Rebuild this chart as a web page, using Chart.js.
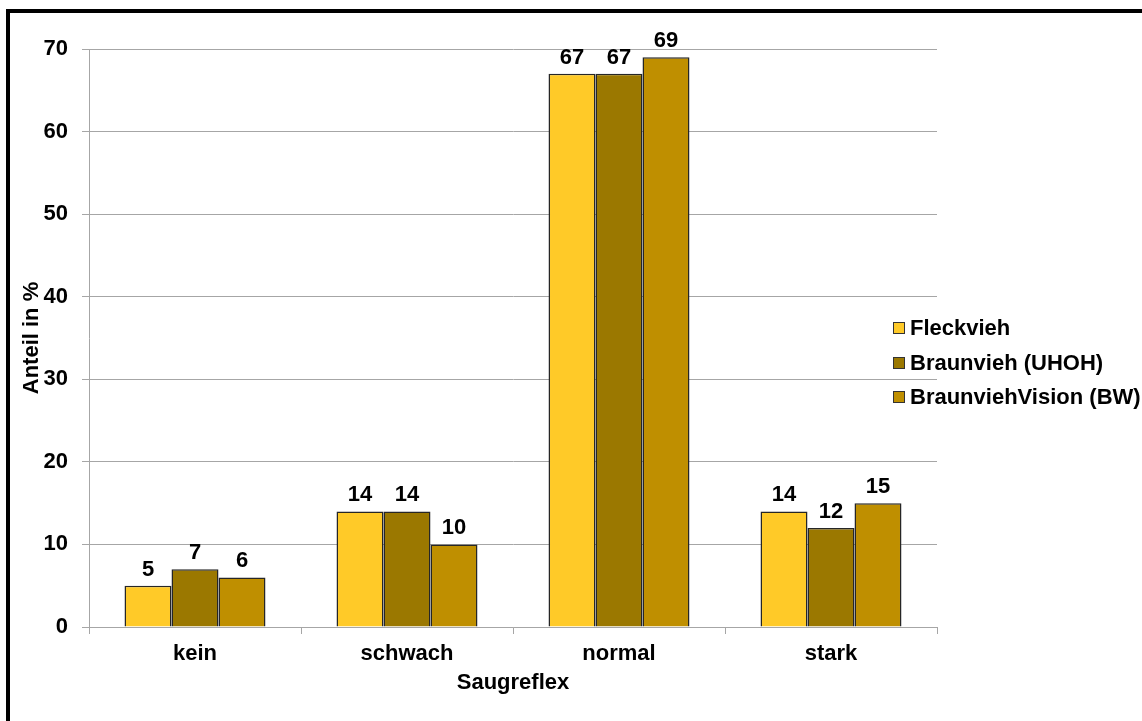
<!DOCTYPE html>
<html>
<head>
<meta charset="utf-8">
<script src="https://cdn.jsdelivr.net/npm/chart.js"></script>
<style>
html,body{margin:0;padding:0;background:#fff;overflow:hidden;}
#frame{position:absolute;left:6px;top:9px;width:1400px;height:1000px;border-top:4px solid #000;border-left:4px solid #000;}
#wrap{position:absolute;left:0;top:0;width:1142px;height:721px;}
</style>
</head>
<body>
<div id="frame"></div>
<div id="wrap"><canvas id="myChart" width="1142" height="721"></canvas></div>
<script>
// Saugreflex nach Rasse, Anteil in %
var categories = ['kein', 'schwach', 'normal', 'stark'];
var fleckvieh = [5, 14, 67, 14];
var braunvieh = [7, 14, 67, 12];
var braunviehVision = [6, 10, 69, 15];
var yTicks = [0, 10, 20, 30, 40, 50, 60, 70];

var font = 'Liberation Sans, Arial, sans-serif';
var fontSize = 22;
var gridGrey = '#a6a6a6';

// zahlen ueber den balken
var valueLabels = {
    id: 'valueLabels',
    afterDatasetsDraw(chart) {
        var ctx = chart.ctx;
        ctx.save();
        ctx.font = 'bold ' + fontSize + 'px ' + font;
        ctx.fillStyle = '#000';
        ctx.textAlign = 'center';
        ctx.textBaseline = 'alphabetic';
        chart.data.datasets.forEach((ds, i) => {
            chart.getDatasetMeta(i).data.forEach((bar, j) => {
                ctx.fillText(ds.data[j], bar.x, bar.y - 10);
            });
        });
        ctx.restore();
    }
};

// legende rechts neben dem diagramm
var sideLegend = {
    id: 'sideLegend',
    afterDraw(chart) {
        var ctx = chart.ctx;
        ctx.save();
        ctx.font = 'bold ' + fontSize + 'px ' + font;
        ctx.textAlign = 'left';
        ctx.textBaseline = 'middle';
        chart.data.datasets.forEach((ds, i) => {
            var y = Math.round(328 + i * 34.5);
            ctx.fillStyle = ds.backgroundColor;
            ctx.fillRect(893, y - 6, 12, 12);
            ctx.strokeStyle = '#333';
            ctx.lineWidth = 1;
            ctx.strokeRect(893.5, y - 5.5, 11, 11);
            ctx.fillStyle = '#000';
            ctx.fillText(ds.label, 910, y + 1);
        });
        ctx.restore();
    }
};

var tickFont = { family: font, size: fontSize, weight: 'bold' };

var ctx = document.getElementById('myChart').getContext('2d');
var myChart = new Chart(ctx, {
    type: 'bar',
    data: {
        labels: categories,
        datasets: [{
            label: 'Fleckvieh',
            data: fleckvieh,
            backgroundColor: '#ffca28',
            borderColor: '#262626',
            borderWidth: 1.5
        }, {
            label: 'Braunvieh (UHOH)',
            data: braunvieh,
            backgroundColor: '#9b7800',
            borderColor: '#262626',
            borderWidth: 1.5
        }, {
            label: 'BraunviehVision (BW)',
            data: braunviehVision,
            backgroundColor: '#bf8f00',
            borderColor: '#262626',
            borderWidth: 1.5
        }]
    },
    options: {
        responsive: false,
        animation: false,
        devicePixelRatio: 1,
        categoryPercentage: 0.665,
        barPercentage: 1,
        layout: {
            padding: { left: 15, top: 49, right: 205, bottom: 21 }
        },
        plugins: {
            legend: { display: false },
            tooltip: { enabled: false }
        },
        scales: {
            x: {
                grid: {
                    drawOnChartArea: false,
                    drawTicks: true,
                    tickLength: 7,
                    color: gridGrey
                },
                border: { color: gridGrey },
                ticks: {
                    color: '#000',
                    padding: 7,
                    font: tickFont
                },
                title: {
                    display: true,
                    text: 'Saugreflex',
                    color: '#000',
                    padding: { top: 4, bottom: 4 },
                    font: tickFont
                },
                afterFit(scale) { scale.height = 73; }
            },
            y: {
                min: 0,
                max: 70,
                afterBuildTicks(scale) {
                    scale.ticks = yTicks.map(v => ({ value: v }));
                },
                grid: {
                    color: gridGrey,
                    tickLength: 7
                },
                border: { color: gridGrey },
                ticks: {
                    color: '#000',
                    padding: 14,
                    font: tickFont
                },
                title: {
                    display: true,
                    text: 'Anteil in %',
                    color: '#000',
                    padding: { top: 4, bottom: 4 },
                    font: tickFont
                },
                afterFit(scale) { scale.width = 74; }
            }
        }
    },
    plugins: [valueLabels, sideLegend]
});
</script>
</body>
</html>
